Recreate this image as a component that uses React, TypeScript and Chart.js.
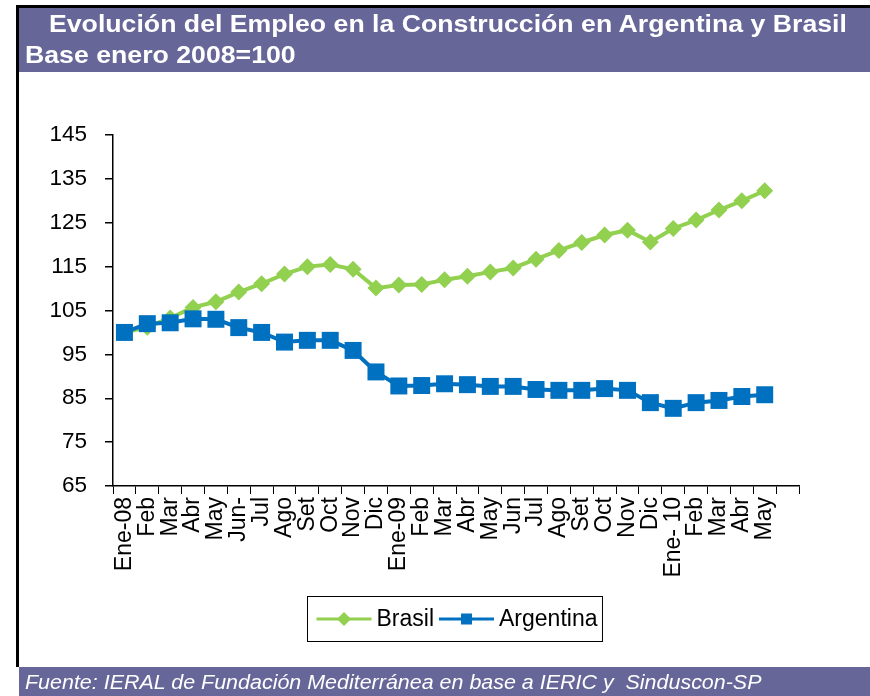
import React, { useEffect, useRef } from "react";
import { Chart, registerables } from "chart.js";

Chart.register(...registerables);

const categories = [
  "Ene-08", "Feb", "Mar", "Abr", "May", "Jun-", "Jul", "Ago", "Set", "Oct", "Nov", "Dic",
  "Ene-09", "Feb", "Mar", "Abr", "May", "Jun", "Jul", "Ago", "Set", "Oct", "Nov", "Dic",
  "Ene- 10", "Feb", "Mar", "Abr", "May", "",
];

const brasil = [
  100, 101.2, 103.3, 105.7, 107, 109.2, 111.1, 113.3, 115, 115.5, 114.4, 110.1,
  110.8, 110.9, 112, 112.8, 113.8, 114.7, 116.7, 118.7, 120.5, 122.2, 123.3, 120.6,
  123.7, 125.6, 127.9, 130, 132.3, null,
];

const argentina = [
  100, 102, 102.2, 103.1, 103, 101.1, 100, 97.8, 98.2, 98.2, 95.9, 91,
  87.8, 87.9, 88.3, 88.1, 87.7, 87.7, 87, 86.8, 86.8, 87.2, 86.8, 84,
  82.7, 84, 84.5, 85.4, 85.8, null,
];

const yMin = 65;
const yMax = 145;
const yStep = 10;

const titleLine1 = "Evolución del Empleo en la Construcción en Argentina y Brasil";
const titleLine2 = "Base enero 2008=100";
const footerText = "Fuente: IERAL de Fundación Mediterránea en base a IERIC y  Sinduscon-SP";

const FONT = "'Liberation Sans', Arial, Helvetica, sans-serif";
const GREEN = "#92D050";
const BLUE = "#0070C0";
const PURPLE = "#666699";

const legendPlugin = {
  id: "customLegend",
  afterDraw(chart: any) {
    const ctx = chart.ctx as CanvasRenderingContext2D;
    const area = chart.chartArea;
    ctx.save();
    ctx.font = `23px ${FONT}`;
    const lineLen = 55;
    const padL = 9;
    const padR = 5;
    const gapLT = 5;
    const gapItems = 5;
    const items = chart.data.datasets.map((ds: any) => ({
      ds,
      tw: ctx.measureText(ds.label).width,
    }));
    let total = padL + padR;
    items.forEach((it: any, i: number) => {
      total += lineLen + gapLT + it.tw + (i < items.length - 1 ? gapItems : 0);
    });
    const cx = (area.left + area.right) / 2;
    const left = Math.round(cx - total / 2) - 1.5;
    const top = area.bottom + 110.5;
    const h = 45;
    ctx.fillStyle = "#fff";
    ctx.fillRect(left, top, total, h);
    ctx.strokeStyle = "#000";
    ctx.lineWidth = 1;
    ctx.strokeRect(left, top, total, h);
    const cy = top + h / 2;
    let x = left + padL;
    items.forEach((it: any) => {
      const ds = it.ds;
      ctx.strokeStyle = ds.borderColor;
      ctx.lineWidth = 3;
      ctx.beginPath();
      ctx.moveTo(x, cy);
      ctx.lineTo(x + lineLen, cy);
      ctx.stroke();
      ctx.fillStyle = ds.borderColor;
      const mx = x + lineLen / 2;
      if (ds.pointStyle === "rectRot") {
        const r = 7;
        ctx.beginPath();
        ctx.moveTo(mx, cy - r);
        ctx.lineTo(mx + r, cy);
        ctx.lineTo(mx, cy + r);
        ctx.lineTo(mx - r, cy);
        ctx.closePath();
        ctx.fill();
      } else {
        const s = 5.5;
        ctx.fillRect(mx - s, cy - s, 2 * s, 2 * s);
      }
      x += lineLen + gapLT;
      ctx.fillStyle = "#000";
      ctx.textBaseline = "middle";
      ctx.textAlign = "left";
      ctx.fillText(ds.label, x, cy + 1);
      x += it.tw + gapItems;
    });
    ctx.restore();
  },
};

export default function App() {
  const canvasRef = useRef<HTMLCanvasElement | null>(null);

  useEffect(() => {
    const canvas = canvasRef.current;
    if (!canvas) return;
    const chart = new Chart(canvas, {
      type: "line",
      data: {
        labels: categories,
        datasets: [
          {
            label: "Brasil",
            data: brasil,
            borderColor: GREEN,
            backgroundColor: GREEN,
            borderWidth: 4,
            pointStyle: "rectRot",
            pointRadius: 8.5,
            pointBorderWidth: 0,
            pointBackgroundColor: GREEN,
            tension: 0,
            order: 1,
          },
          {
            label: "Argentina",
            data: argentina,
            borderColor: BLUE,
            backgroundColor: BLUE,
            borderWidth: 4,
            pointStyle: "rect",
            pointRadius: 12,
            pointBorderWidth: 0,
            pointBackgroundColor: BLUE,
            tension: 0,
            order: 0,
          },
        ],
      },
      options: {
        responsive: false,
        animation: false,
        devicePixelRatio: 1,
        layout: { padding: { left: 0, top: 135, right: 71, bottom: 110 } },
        plugins: {
          legend: { display: false },
          tooltip: { enabled: false },
          title: { display: false },
        },
        scales: {
          x: {
            type: "category",
            offset: true,
            grid: {
              offset: true,
              drawOnChartArea: false,
              drawTicks: true,
              tickLength: 8,
              color: "#000",
              lineWidth: 1,
            },
            border: { display: true, color: "#000", width: 1.5 },
            ticks: {
              autoSkip: false,
              minRotation: 90,
              maxRotation: 90,
              color: "#000",
              padding: 3,
              font: { family: FONT, size: 23 },
            },
            afterFit: (s: any) => {
              s.height = 100;
            },
          },
          y: {
            min: yMin,
            max: yMax,
            grid: {
              drawOnChartArea: false,
              drawTicks: true,
              tickLength: 8,
              color: "#000",
              lineWidth: 1.5,
            },
            border: { display: true, color: "#000", width: 1.5 },
            ticks: {
              stepSize: yStep,
              color: "#000",
              padding: 18,
              font: { family: FONT, size: 22.5 },
            },
            afterFit: (s: any) => {
              s.width = 113;
            },
          },
        },
      },
      plugins: [legendPlugin],
    });
    return () => chart.destroy();
  }, []);

  const titleStyle: React.CSSProperties = {
    position: "absolute",
    color: "#fff",
    fontWeight: "bold",
    fontSize: 23.5,
    whiteSpace: "pre",
    lineHeight: "30px",
    transform: "scaleX(1.135)",
    transformOrigin: "0 0",
  };

  return (
    <div
      style={{
        position: "absolute",
        left: 0,
        top: 0,
        width: 870,
        height: 696,
        overflow: "hidden",
        background: "#fff",
        fontFamily: FONT,
      }}
    >
      <div style={{ position: "absolute", left: 16, top: 5, width: 854, height: 3, background: "#000" }} />
      <div style={{ position: "absolute", left: 16, top: 5, width: 3, height: 662, background: "#000" }} />
      <div
        style={{
          position: "absolute",
          left: 19,
          top: 8,
          width: 851,
          height: 64,
          background: PURPLE,
        }}
      />
      <div
        style={{
          position: "absolute",
          left: 19,
          top: 667,
          width: 851,
          height: 29,
          background: PURPLE,
        }}
      />
      <canvas
        ref={canvasRef}
        width={870}
        height={696}
        style={{ position: "absolute", left: 0, top: 0, width: 870, height: 696 }}
      />
      <div style={{ ...titleStyle, left: 49, top: 9 }}>{titleLine1}</div>
      <div style={{ ...titleStyle, left: 25, top: 40 }}>{titleLine2}</div>
      <div
        style={{
          position: "absolute",
          left: 25,
          top: 670,
          color: "#fff",
          fontStyle: "italic",
          fontSize: 19.5,
          whiteSpace: "pre",
          lineHeight: "24px",
          transform: "scaleX(1.1)",
          transformOrigin: "0 0",
        }}
      >
        {footerText}
      </div>
    </div>
  );
}
